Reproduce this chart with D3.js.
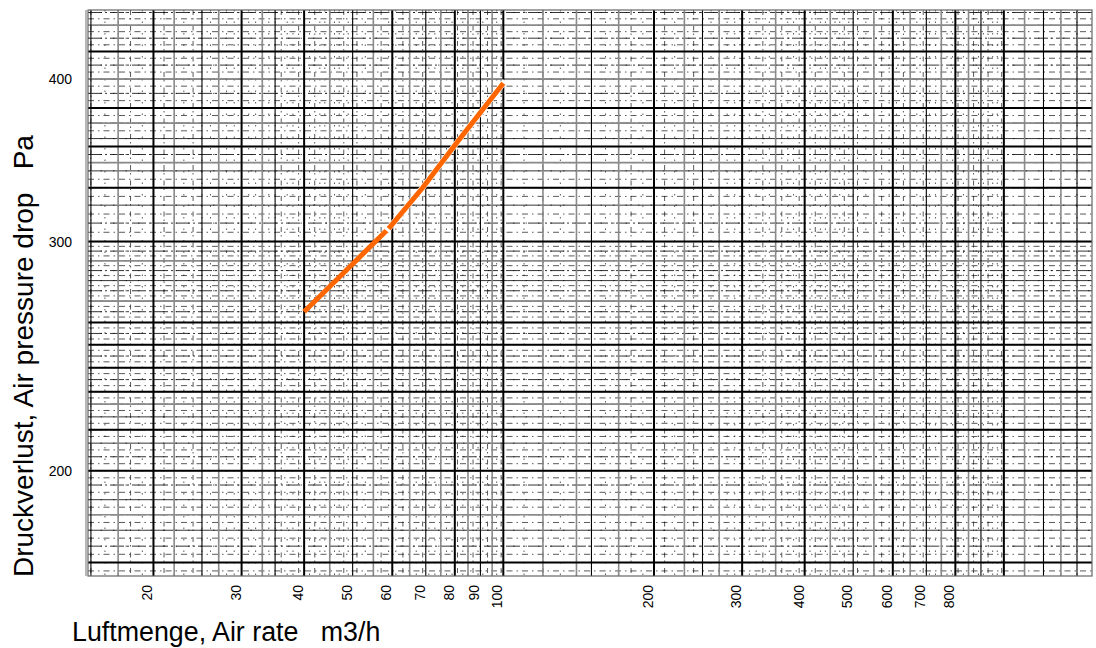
<!DOCTYPE html>
<html>
<head>
<meta charset="utf-8">
<title>Luftmenge / Druckverlust</title>
<style>
  html, body { margin: 0; padding: 0; background: #fff; }
  svg { display: block; }
  text { font-family: Arial, 'Liberation Sans', sans-serif; fill: #000; }
</style>
</head>
<body>
<svg id="chart" width="1096" height="648"></svg>
<script src="https://cdnjs.cloudflare.com/ajax/libs/d3/7.8.5/d3.min.js"></script>
<script>
// curve: air rate (m3/h) vs pressure drop (Pa)
var airRate = [40, 59, 69, 81, 100];
var pressure = [265, 307, 330, 358, 397];
var kneeIndex = 1; // the curve is drawn in two pieces, split here

// tick labels
var xTickValues = [20, 30, 40, 50, 60, 70, 80, 90, 100, 200, 300, 400, 500, 600, 700, 800];
var yTickValues = [200, 300, 400];

// graph paper lines
var xGridHeavy = [20, 30, 40, 60, 80, 100, 200, 300, 400, 600, 800, 1000];
var xGridMedium = [15, 25, 35, 50, 70, 90, 150, 250, 500, 700, 900, 1200, 1400];
var xGridGray = [17, 22, 27, 33, 45, 55, 65, 75, 85, 95, 120, 140, 170, 230, 270, 350, 450, 550, 650, 750, 850, 1100, 1300];
var yGridHeavy = [170, 200, 215, 230, 240, 250, 260, 300, 330, 355, 380, 420];
var yGridGray = [185, 225, 270, 290, 345, 370, 400, 440];

(function() {
  var svg = d3.select('#chart');
  var left = 88, right = 1092, plotTop = 10, bottom = 576;

  var x = d3.scaleLog().domain([14.8, 1500]).range([left, right]);
  var y = d3.scaleLog().domain([166, 452]).range([bottom, plotTop]);

  var paper = svg.append('g');

  function vlines(cls, data) {
    return paper.selectAll('.' + cls).data(data).join('line').attr('class', cls)
      .attr('x1', function(d) { return x(d); }).attr('x2', function(d) { return x(d); })
      .attr('y1', plotTop).attr('y2', bottom);
  }
  function hlines(cls, data) {
    return paper.selectAll('.' + cls).data(data).join('line').attr('class', cls)
      .attr('y1', function(d) { return y(d); }).attr('y2', function(d) { return y(d); })
      .attr('x1', left).attr('x2', right);
  }

  // fine dotted lines
  var xFine = [];
  [10, 100, 1000].forEach(function(dec) {
    for (var m = 1; m < 10; m += (m < 5 ? 0.1 : 0.2)) {
      var v = +(m * dec).toFixed(3);
      if (v > 14.8 && v < 1500) xFine.push(v);
    }
  });
  var yFine = [];
  for (var v = 167.5; v < 452; v += (v < 300 ? 2.5 : 5)) yFine.push(v);

  vlines('xfine', xFine)
    .attr('stroke', '#000').attr('stroke-width', 1).attr('stroke-opacity', 0.65)
    .attr('stroke-dasharray', function(d, i) { return i % 3 ? '1.5,10' : '5,3,1.5,6'; });
  hlines('yfine', yFine)
    .attr('stroke', '#000').attr('stroke-width', 1).attr('stroke-opacity', 0.65)
    .attr('stroke-dasharray', function(d, i) { return i % 2 ? '1.5,11' : '6,4,1.5,4'; });

  // regular 10 / 5 step horizontal lines
  var yMid = [];
  for (var w = 170; w < 452; w += (w < 300 ? 5 : 10)) yMid.push(w);
  hlines('ymid', yMid)
    .attr('stroke', '#000').attr('stroke-width', 0.8)
    .attr('stroke-dasharray', function(d, i) { return i % 2 ? '14,3,2,3' : null; });

  // gray lines
  vlines('xgray', xGridGray).attr('stroke', '#8a8a8a').attr('stroke-width', 1.6);
  hlines('ygray', yGridGray).attr('stroke', '#8a8a8a').attr('stroke-width', 1.6);

  // medium black verticals
  vlines('xmed', xGridMedium).attr('stroke', '#000').attr('stroke-width', 1.1);

  // heavy lines
  vlines('xheavy', xGridHeavy).attr('stroke', '#000').attr('stroke-width', 2);
  hlines('yheavy', yGridHeavy).attr('stroke', '#000').attr('stroke-width', 2);

  // frame
  svg.append('rect')
    .attr('x', left).attr('y', plotTop).attr('width', right - left).attr('height', bottom - plotTop)
    .attr('fill', 'none').attr('stroke', '#666').attr('stroke-width', 1.2);
  svg.append('line')
    .attr('x1', left - 2).attr('x2', left - 2).attr('y1', plotTop).attr('y2', bottom)
    .attr('stroke', '#888').attr('stroke-width', 1.2);

  // curve, two pieces with a small white gap at the knee
  var pts = airRate.map(function(d, i) { return [d, pressure[i]]; });
  var pieces = [pts.slice(0, kneeIndex + 1), pts.slice(kneeIndex)];
  var line = d3.line().x(function(d) { return x(d[0]); }).y(function(d) { return y(d[1]); });

  svg.append('path').attr('d', line(pieces[0])).attr('fill', 'none')
    .attr('stroke', '#ff6600').attr('stroke-width', 5);
  // white square-capped casing under the second piece opens the gap
  svg.append('path').attr('d', line(pieces[1])).attr('fill', 'none')
    .attr('stroke', '#fff').attr('stroke-width', 6).attr('stroke-linecap', 'square');
  svg.append('path').attr('d', line(pieces[1])).attr('fill', 'none')
    .attr('stroke', '#ff6600').attr('stroke-width', 5).attr('stroke-linecap', 'butt');

  // tick labels
  svg.selectAll('.xlab').data(xTickValues).join('text').attr('class', 'xlab')
    .attr('transform', function(d) { return 'translate(' + (x(d) - 6) + ',585) rotate(-90)'; })
    .attr('text-anchor', 'end').attr('dy', '0.35em')
    .style('font-size', '14px')
    .text(function(d) { return d; });

  svg.selectAll('.ylab').data(yTickValues).join('text').attr('class', 'ylab')
    .attr('x', 72).attr('y', function(d) { return y(d); })
    .attr('text-anchor', 'end').attr('dy', '0.35em')
    .style('font-size', '14px')
    .text(function(d) { return d; });

  // axis titles
  svg.append('text')
    .attr('x', 72).attr('y', 641)
    .style('font-size', '26.8px').style('white-space', 'pre')
    .text('Luftmenge, Air rate   m3/h');

  svg.append('text')
    .attr('transform', 'translate(33,577) rotate(-90)')
    .style('font-size', '28px').style('white-space', 'pre')
    .text('Druckverlust, Air pressure drop   Pa');
})();
</script>
</body>
</html>
